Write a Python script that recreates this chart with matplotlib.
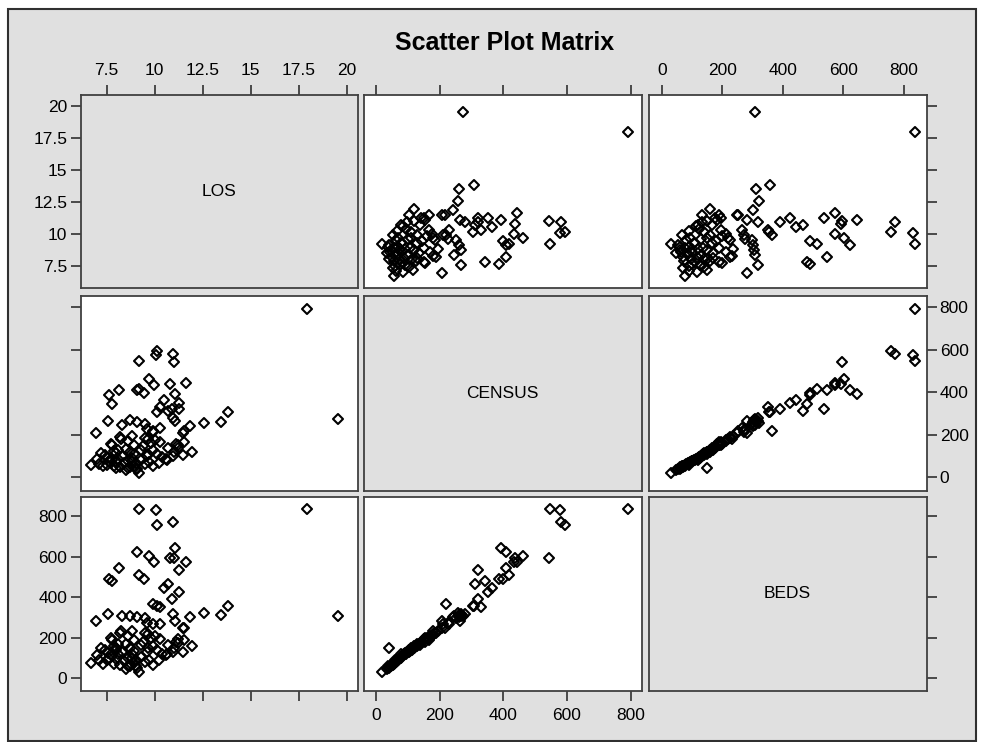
import matplotlib.pyplot as plt
from matplotlib.patches import Rectangle
from matplotlib.markers import MarkerStyle

plt.rcParams['font.family'] = ['Liberation Sans', 'DejaVu Sans']

# hospital data: length of stay, average daily census, beds
los = [17.94, 19.56, 10.08, 9.20, 10.10, 10.94, 11.00, 11.64, 10.80, 9.95,
       9.70, 9.10, 11.05, 11.25, 8.15, 7.80, 7.63, 9.45, 9.20, 10.68,
       10.50, 11.25, 10.90,
       13.83, 13.47, 12.58, 11.85, 11.48, 11.50, 11.05, 10.94, 10.30, 10.10,
       9.90, 10.30, 9.90, 9.60, 9.50, 9.10, 8.70, 8.30, 8.80, 8.25,
       7.55, 6.95,
       9.20, 11.93, 11.46, 10.60, 10.65, 11.50, 11.20, 11.20, 11.10, 10.94,
       9.90, 9.70, 9.65, 10.30, 9.80, 9.65, 8.00, 9.27, 9.10, 8.90,
       8.70, 8.60, 8.90, 8.70, 8.50, 8.90, 8.20, 8.00, 7.80, 7.55,
       8.10, 7.80, 7.70, 7.30, 7.10, 7.00, 6.70, 9.50, 9.30, 9.00,
       8.80, 8.40, 8.30, 8.00, 7.90, 7.60, 7.40, 8.60, 9.40, 9.90,
       10.10, 10.40, 10.00, 9.50, 8.60, 8.20, 7.20, 7.90, 8.80, 9.00,
       10.20, 11.00, 7.50, 8.50, 9.60, 8.10, 10.70]
census = [791, 273, 577, 547, 593, 582, 542, 442, 437, 434,
          461, 409, 393, 320, 409, 343, 386, 398, 417, 312,
          364, 351, 320,
          309, 261, 257, 243, 208, 216, 265, 280, 330, 305,
          219, 230, 212, 225, 250, 262, 268, 245, 195, 180,
          267, 207,
          20, 120, 105, 85, 80, 168, 150, 140, 155, 98,
          52, 70, 180, 165, 160, 110, 42, 130, 40, 55,
          48, 78, 108, 118, 135, 152, 50, 72, 82, 90,
          128, 150, 155, 52, 63, 86, 58, 62, 80, 68,
          92, 65, 100, 112, 55, 75, 105, 45, 145, 130,
          110, 95, 175, 185, 170, 190, 115, 125, 75, 38,
          66, 120, 60, 33, 102, 88, 138]
beds = [835, 306, 831, 836, 756, 771, 594, 572, 591, 572,
        602, 622, 643, 535, 546, 480, 489, 489, 511, 465,
        443, 423, 390,
        358, 310, 321, 300, 247, 250, 280, 316, 349, 355,
        364, 266, 270, 274, 298, 302, 305, 307, 235, 232,
        316, 280,
        29, 159, 131, 114, 119, 190, 194, 176, 181, 131,
        67, 92, 219, 196, 200, 148, 148, 165, 52, 75,
        60, 100, 135, 150, 170, 190, 68, 95, 110, 125,
        168, 190, 198, 70, 88, 115, 76, 80, 105, 90,
        120, 85, 130, 140, 72, 100, 140, 62, 180, 160,
        140, 122, 210, 225, 210, 225, 150, 160, 98, 60,
        88, 150, 88, 45, 128, 118, 165]

names = ["LOS", "CENSUS", "BEDS"]
data = [los, census, beds]
ticks = [[7.5, 10, 12.5, 15, 17.5, 20], [0, 200, 400, 600, 800], [0, 200, 400, 600, 800]]
tick_labels = [["7.5", "10", "12.5", "15", "17.5", "20"],
               ["0", "200", "400", "600", "800"],
               ["0", "200", "400", "600", "800"]]

# axis ranges (x for columns, y for rows), matched to the SAS padding
xlims = [(6.135, 20.56), (-37.7, 834), (-44.6, 874.4)]
ylims = [(5.755, 20.86), (-62.1, 853), (-62.6, 895)]

W, H = 983, 742
cols = [(80.5, 357.5), (364, 641.5), (648.5, 926.5)]
rows = [(95, 288), (296, 490.5), (496.7, 691)]

fig = plt.figure(figsize=(W / 100, H / 100), dpi=100)
fig.patches.append(Rectangle((8 / W, 1 - 741 / H), 968 / W, 732 / H, transform=fig.transFigure,
                             facecolor="#e0e0e0", edgecolor="#303030", linewidth=1.5, zorder=-5))
fig.text(505 / W, 1 - 43 / H, "Scatter Plot Matrix", ha="center", va="center",
         fontsize=18, fontweight="bold")

marker = MarkerStyle("D", fillstyle="none", joinstyle="round")

for i in range(3):
    for j in range(3):
        x0, x1 = cols[j]
        y0, y1 = rows[i]
        ax = fig.add_axes([x0 / W, 1 - y1 / H, (x1 - x0) / W, (y1 - y0) / H])
        ax.set_xlim(*xlims[j])
        ax.set_ylim(*ylims[i])
        for s in ax.spines.values():
            s.set_color("#404040")
            s.set_linewidth(1.3)
        if i == j:
            ax.set_facecolor("#e0e0e0")
            ax.text(0.5, 0.5, names[i], transform=ax.transAxes, ha="center", va="center", fontsize=12.5)
        else:
            ax.set_facecolor("white")
            ax.plot(data[j], data[i], linestyle="none", marker=marker, markersize=4.6,
                    markeredgecolor="black", markeredgewidth=1.5)
        ax.set_xticks(ticks[j])
        ax.set_yticks(ticks[i])
        ax.set_xticklabels(tick_labels[j])
        ax.set_yticklabels(tick_labels[i])
        ax.tick_params(axis="both", direction="out", length=7, width=1.2, color="#303030",
                       labelsize=12.5, labelcolor="black")
        # SAS alternates labelled and bare tick marks round the matrix
        ax.tick_params(axis="x", pad=5.5, top=(i == 0), bottom=(i == 2 and j != 2),
                       labeltop=(i == 0 and j != 1), labelbottom=(i == 2 and j == 1))
        ax.tick_params(axis="y", pad=2.5, left=(j == 0), right=(j == 2),
                       labelleft=(j == 0 and i != 1), labelright=(j == 2 and i == 1))

fig.savefig("out.png", dpi=100)
